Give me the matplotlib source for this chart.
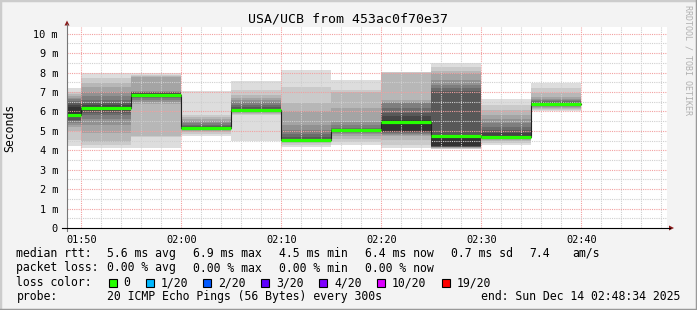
import matplotlib
matplotlib.use('Agg')
import matplotlib.pyplot as plt
from matplotlib.lines import Line2D
from matplotlib.patches import Rectangle, Polygon

W, H = 697, 310

title = 'USA/UCB from 453ac0f70e37'
window = ['01:48:34', '02:48:34']

# 5 minute steps, edges (hh:mm)
step_edges = ['01:45', '01:50', '01:55', '02:00', '02:05', '02:10', '02:15',
              '02:20', '02:25', '02:30', '02:35', '02:40']
# median rtt per step (ms)
medians = [5.82, 6.17, 6.87, 5.15, 6.08, 4.52, 5.02, 5.48, 4.71, 4.68, 6.40]
# 20 sorted pings per step (ms)
pings = [
    [4.23, 4.54, 5.00, 5.19, 5.30, 5.40, 5.50, 5.57, 5.70, 5.78,
     6.25, 6.35, 6.45, 6.55, 6.63, 6.70, 6.80, 6.90, 6.98, 7.23],
    [4.10, 4.28, 4.45, 4.88, 5.30, 5.60, 5.80, 5.90, 6.00, 6.10,
     6.25, 6.35, 6.44, 6.60, 6.77, 7.00, 7.25, 7.46, 7.73, 8.00],
    [4.10, 4.70, 4.72, 6.40, 6.50, 6.60, 6.70, 6.75, 6.80, 6.85,
     6.92, 6.95, 6.98, 7.00, 7.02, 7.05, 7.75, 7.80, 7.88, 8.00],
    [4.75, 4.85, 4.95, 5.00, 5.05, 5.08, 5.10, 5.12, 5.13, 5.14,
     5.16, 5.20, 5.25, 5.30, 5.40, 5.50, 5.60, 5.70, 5.82, 7.06],
    [4.50, 5.80, 5.85, 5.90, 5.95, 6.00, 6.02, 6.04, 6.06, 6.07,
     6.10, 6.15, 6.25, 6.35, 6.50, 6.60, 6.70, 6.86, 7.10, 7.54],
    [4.18, 4.25, 4.35, 4.42, 4.45, 4.47, 4.49, 4.50, 4.51, 4.52,
     4.55, 4.60, 4.70, 4.85, 5.05, 5.31, 6.00, 6.43, 7.26, 8.14],
    [4.25, 4.45, 4.60, 4.75, 4.85, 4.90, 4.95, 4.98, 5.00, 5.01,
     5.03, 5.06, 5.10, 5.17, 5.30, 5.48, 6.20, 6.98, 7.10, 7.60],
    [4.11, 4.28, 4.54, 4.71, 4.80, 4.85, 4.88, 4.92, 4.95, 4.97,
     5.55, 5.74, 5.94, 6.17, 6.43, 6.50, 6.60, 8.00, 8.02, 8.03],
    [4.06, 4.08, 4.10, 4.12, 4.15, 4.16, 4.17, 4.18, 4.20, 4.22,
     4.75, 4.80, 7.03, 7.20, 7.38, 7.63, 7.97, 8.06, 8.30, 8.50],
    [4.28, 4.40, 4.50, 4.54, 4.58, 4.60, 4.62, 4.64, 4.65, 4.66,
     4.70, 4.88, 5.02, 5.19, 5.39, 5.60, 5.82, 6.08, 6.31, 6.65],
    [6.02, 6.05, 6.10, 6.17, 6.22, 6.29, 6.32, 6.35, 6.37, 6.38,
     6.41, 6.45, 6.50, 6.55, 6.60, 6.65, 6.74, 6.94, 7.20, 7.46],
]

xtick_labels = ['01:50', '02:00', '02:10', '02:20', '02:30', '02:40']
ytick_values = [0, 1, 2, 3, 4, 5, 6, 7, 8, 9, 10]

legend_rows = [
    ['median rtt:', '5.6 ms avg', '6.9 ms max', '4.5 ms min', '6.4 ms now',
     '0.7 ms sd', '7.4', 'am/s'],
    ['packet loss:', '0.00 % avg', '0.00 % max', '0.00 % min', '0.00 % now'],
]
loss_labels = ['0', '1/20', '2/20', '3/20', '4/20', '10/20', '19/20']
loss_colors = ['#26ff00', '#00b8ff', '#0059ff', '#5e00ff', '#7e00ff', '#dd00ff', '#ff0000']
probe_text = '20 ICMP Echo Pings (56 Bytes) every 300s'
end_text = 'end: Sun Dec 14 02:48:34 2025'


def minutes(s):
    parts = [int(p) for p in s.split(':')]
    while len(parts) < 3:
        parts.append(0)
    return parts[0] * 60 + parts[1] + parts[2] / 60.0


def fx(px):
    return px / W


def fy(py):
    return 1 - py / H


mono = 'DejaVu Sans Mono'
plt.rcParams['font.family'] = mono

fig = plt.figure(figsize=(W / 100, H / 100), dpi=100, facecolor='#f3f3f3')

# plot area: x 67..667, y 27..228 px
ax = fig.add_axes([fx(67), fy(228), fx(600), 201 / H])
ax.set_facecolor('white')
for sp in ax.spines.values():
    sp.set_visible(False)
t0, t1 = minutes(window[0]), minutes(window[1])
ax.set_xlim(t0, t1)
ax.set_ylim(0, 201 / 19.43)

edges = [minutes(e) for e in step_edges]

# smoke
half = 10
for i in range(half):
    grey = int(190 / half * (half - (i + 1))) + 50
    col = '#%02x%02x%02x' % (grey, grey, grey)
    lo = [p[i] for p in pings]
    hi = [p[19 - i] for p in pings]
    ax.fill_between(edges, lo + [lo[-1]], hi + [hi[-1]], step='post',
                    color=col, lw=0, zorder=1)

# grid
dot = (0, (1, 1))
t = minutes('01:50')
while t < t1:
    if t > t0:
        major = round(t) % 10 == 0
        ax.axvline(t, color='#f2a0a0' if major else '#cfcfcf', lw=0.8,
                   linestyle=dot, zorder=2)
    t += 2
for k in range(1, 21):
    v = k * 0.5
    major = k % 2 == 0
    ax.axhline(v, color='#f2a0a0' if major else '#cfcfcf', lw=0.8,
               linestyle=dot, zorder=2)

# median
ax.step(edges, medians + [medians[-1]], where='post', color='#202020', lw=0.8, zorder=3)
ax.hlines(medians, edges[:-1], edges[1:], color=loss_colors[0], lw=2.3, zorder=4)

# ticks
ax.set_xticks([minutes(s) for s in xtick_labels])
ax.set_xticklabels(xtick_labels, fontsize=7.4)
ax.set_yticks(ytick_values)
ax.set_yticklabels(['0' if v == 0 else '%d m' % v for v in ytick_values], fontsize=7.4)
ax.tick_params(length=0)
ax.tick_params(axis='x', pad=5)
ax.tick_params(axis='y', pad=6.5)

# axis lines and arrows
fig.add_artist(Line2D([fx(67), fx(67)], [fy(231), fy(24)], color='#777777', lw=0.8))
fig.add_artist(Line2D([fx(62), fx(670)], [fy(228), fy(228)], color='black', lw=0.8))
fig.add_artist(Polygon([[fx(64.5), fy(25.5)], [fx(69.5), fy(25.5)], [fx(67), fy(20.5)]],
                       closed=True, color='#8b1a1a', lw=0))
fig.add_artist(Polygon([[fx(669), fy(225.5)], [fx(669), fy(230.5)], [fx(674), fy(228)]],
                       closed=True, color='#8b1a1a', lw=0))

# texts
fig.text(fx(348), fy(19.5), title, ha='center', va='center', fontsize=9.5)
fig.text(fx(10), fy(128), 'Seconds', ha='center', va='center', rotation=90, fontsize=8.3)
fig.text(fx(688), fy(60), 'RRDTOOL / TOBI OETIKER', ha='center', va='center',
         rotation=270, fontsize=6, color='#b0b0b0')

row_y = [253.5, 268, 282.5, 296.5]
col_x = [16.5, 107.3, 193.3, 279.3, 365.3, 451.3, 529.7, 572]
for r, row in enumerate(legend_rows):
    for c, txt in enumerate(row):
        fig.text(fx(col_x[c]), fy(row_y[r]), txt, ha='left', va='center', fontsize=8.3)

fig.text(fx(16.5), fy(row_y[2]), 'loss color:', ha='left', va='center', fontsize=8.3)
box_x = [108.5, 146, 203.3, 261, 319.3, 377, 442]
for bx, lab, col in zip(box_x, loss_labels, loss_colors):
    fig.add_artist(Rectangle((fx(bx), fy(row_y[2] + 4)), fx(8), 8 / H,
                             facecolor=col, edgecolor='black', lw=0.8))
    fig.text(fx(bx + 15), fy(row_y[2]), lab, ha='left', va='center', fontsize=8.3)

fig.text(fx(16.5), fy(row_y[3]), 'probe:', ha='left', va='center', fontsize=8.3)
fig.text(fx(107.3), fy(row_y[3]), probe_text, ha='left', va='center', fontsize=8.3)
fig.text(fx(680.5), fy(row_y[3]), end_text, ha='right', va='center', fontsize=8.3)

# frame
fig.add_artist(Line2D([0, 0, 1], [0, 1, 1], transform=fig.transFigure, color='#cccccc', lw=2.5))
fig.add_artist(Line2D([0, 1, 1], [0, 0, 1], transform=fig.transFigure, color='#999999', lw=2.5))

fig.savefig('out.png', dpi=100, facecolor=fig.get_facecolor())
